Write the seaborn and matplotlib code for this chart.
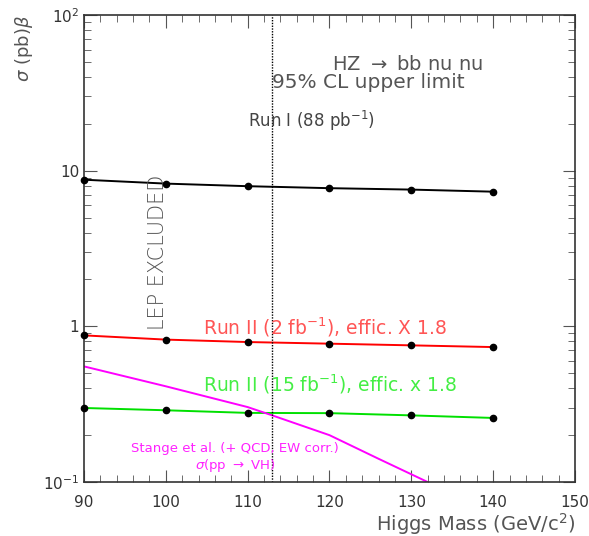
import numpy as np
import pandas as pd
import matplotlib
matplotlib.use('Agg')
import matplotlib.pyplot as plt
import seaborn as sns
from matplotlib.ticker import LogLocator, FixedLocator, MultipleLocator, NullFormatter

# Data
mass = [90, 100, 110, 120, 130, 140]
run1 = [8.75, 8.26, 7.95, 7.72, 7.56, 7.33]
run2_2fb = [0.875, 0.822, 0.793, 0.774, 0.755, 0.736]
run2_15fb = [0.299, 0.289, 0.278, 0.277, 0.268, 0.258]

theory_mass = [90, 100, 110, 113, 120, 126, 132]
theory_xsec = [0.553, 0.412, 0.303, 0.268, 0.20, 0.141, 0.10]

lep_limit = 113.0

sns.set_style("ticks")
plt.rcParams['font.family'] = ['DejaVu Sans']
grey = '#555555'

fig = plt.figure(figsize=(5.89, 5.36), dpi=100)
ax = fig.add_axes([0.1426, 0.1007, 0.8336, 0.8713])

df = pd.DataFrame({'mass': mass, 'run1': run1, 'run2a': run2_2fb, 'run2b': run2_15fb})
df_th = pd.DataFrame({'mass': theory_mass, 'xsec': theory_xsec})

# limit curves
sns.lineplot(data=df, x='mass', y='run1', color='black', lw=1.4, ax=ax)
sns.lineplot(data=df, x='mass', y='run2a', color='#ff0000', lw=1.4, ax=ax)
sns.lineplot(data=df, x='mass', y='run2b', color='#00e000', lw=1.4, ax=ax)
for col in ['run1', 'run2a', 'run2b']:
    ax.plot(df['mass'], df[col], 'o', color='black', ms=4.5, zorder=5, clip_on=False)

# theory curve
sns.lineplot(data=df_th, x='mass', y='xsec', color='#ff00ff', lw=1.4, ax=ax)

# LEP exclusion line
ax.axvline(lep_limit, color='black', lw=1.0, ls=(0, (1, 1)))

ax.set_yscale('log')
ax.set_xlim(90, 150)
ax.set_ylim(0.1, 100)

ax.xaxis.set_major_locator(MultipleLocator(10))
ax.xaxis.set_minor_locator(MultipleLocator(2))
ax.yaxis.set_major_locator(FixedLocator([0.1, 1, 10, 100]))
ax.yaxis.set_minor_locator(LogLocator(base=10, subs=np.arange(2, 10)))
ax.yaxis.set_minor_formatter(NullFormatter())
ax.set_yticklabels([r'10$^{-1}$', '1', '10', r'10$^{2}$'])

ax.tick_params(which='both', direction='in', top=True, right=True, colors=grey,
               labelcolor='#333333', labelsize=11)
ax.tick_params(which='major', length=9)
ax.tick_params(which='minor', length=5)
ax.tick_params(axis='x', pad=9)
for s in ax.spines.values():
    s.set_color('#333333')
    s.set_linewidth(1.2)

ax.set_xlabel('')
ax.set_ylabel('')
fig.text(0.976, 0.022, r'Higgs Mass (GeV/c$^{2}$)', ha='right', va='center',
         fontsize=14, color=grey)
fig.text(0.04, 0.972, r'$\sigma$ (pb)$\beta$', rotation=90, ha='center', va='top',
         fontsize=13, color=grey)

# annotations
ax.text(120.3, 48, r'HZ $\rightarrow$ bb nu nu', fontsize=14, color=grey, ha='left', va='center')
ax.text(113, 37, '95% CL upper limit', fontsize=14.5, color=grey, ha='left', va='center')
ax.text(110, 21, r'Run I (88 pb$^{-1}$)', fontsize=12, color='#444444', ha='left', va='center')
ax.text(99.1, 3.0, 'LEP EXCLUDED', rotation=90, fontsize=15, color=grey,
        ha='center', va='center', fontweight='light')
ax.text(104.5, 0.99, r'Run II (2 fb$^{-1}$), effic. X 1.8', fontsize=13.5,
        color='#ff5555', ha='left', va='center')
ax.text(104.5, 0.425, r'Run II (15 fb$^{-1}$), effic. x 1.8', fontsize=13.5,
        color='#44ee44', ha='left', va='center')
ax.text(108.4, 0.163, 'Stange et al. (+ QCD, EW corr.)', fontsize=9.5,
        color='#ff22ff', ha='center', va='center')
ax.text(108.4, 0.128, r'$\sigma$(pp $\rightarrow$ VH)', fontsize=9.5,
        color='#ff22ff', ha='center', va='center')

fig.savefig('out.png', dpi=100)
